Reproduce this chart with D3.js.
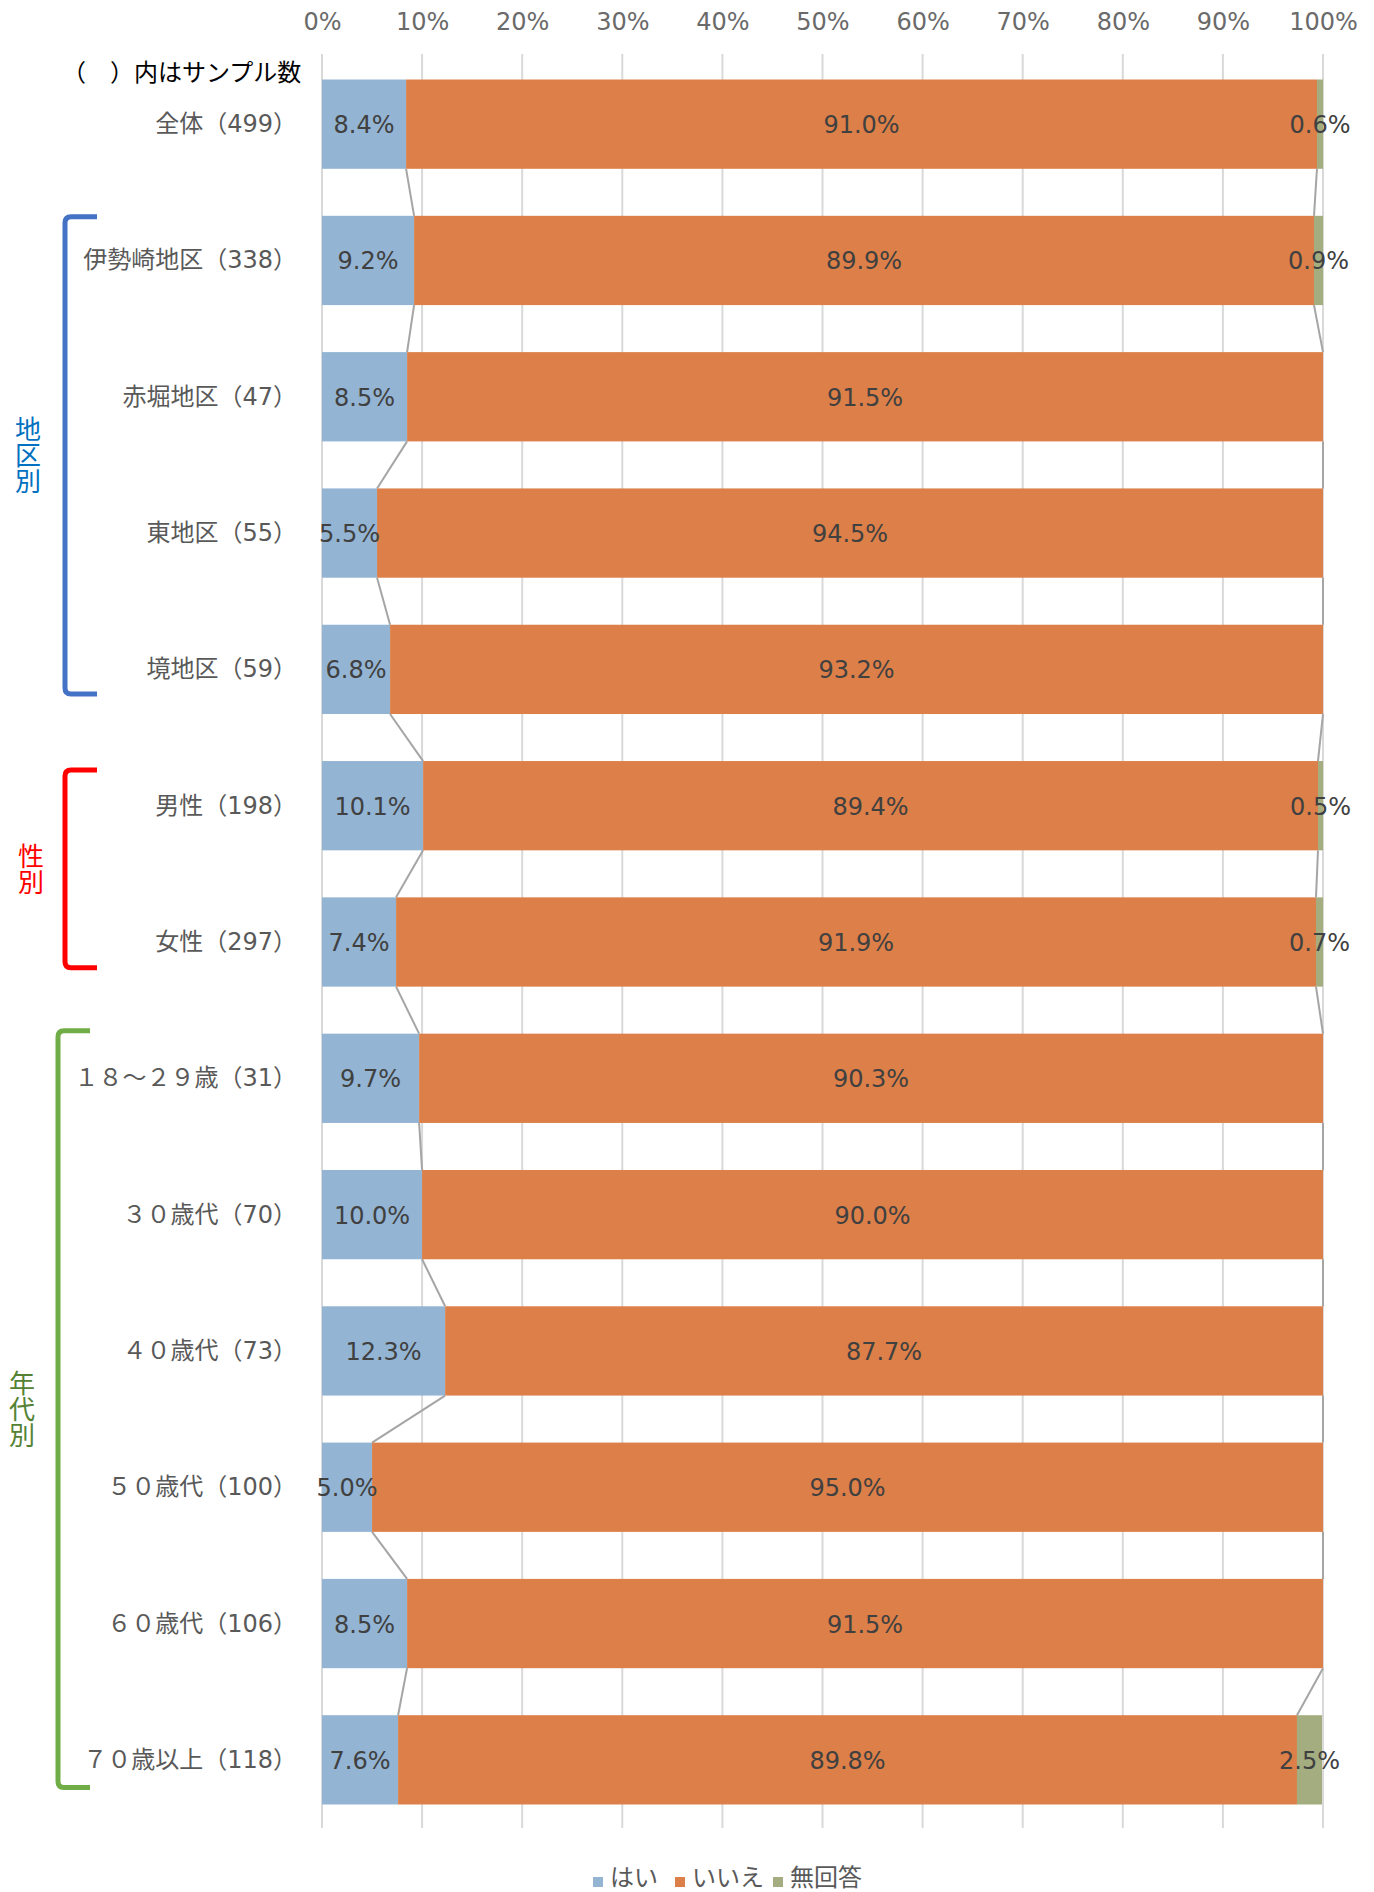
<!DOCTYPE html>
<html>
<head>
<meta charset="utf-8">
<script src="https://cdn.jsdelivr.net/npm/d3@7"></script>
<style>
html,body{margin:0;padding:0;background:#fff;}
svg{display:block;}
</style>
</head>
<body>
<svg id="chart" width="1374" height="1892"></svg>
<script>
const categories = ["全体（499）","伊勢崎地区（338）","赤堀地区（47）","東地区（55）","境地区（59）","男性（198）","女性（297）","１８～２９歳（31）","３０歳代（70）","４０歳代（73）","５０歳代（100）","６０歳代（106）","７０歳以上（118）"];
const yesValues = [8.4,9.2,8.5,5.5,6.8,10.1,7.4,9.7,10.0,12.3,5.0,8.5,7.6];
const noValues = [91.0,89.9,91.5,94.5,93.2,89.4,91.9,90.3,90.0,87.7,95.0,91.5,89.8];
const naValues = [0.6,0.9,0,0,0,0.5,0.7,0,0,0,0,0,2.5];
const seriesNames = ["はい","いいえ","無回答"];
const seriesColors = ["#93b4d3","#dc7f48","#a4ad80"];
const tickValues = [0,10,20,30,40,50,60,70,80,90,100];
const groups = [
  {name:"地区別", from:1, to:4, color:"#4472c4", textColor:"#0070c0"},
  {name:"性別", from:5, to:6, color:"#ff0000", textColor:"#ff0000"},
  {name:"年代別", from:7, to:12, color:"#70ad47", textColor:"#548235"}
];
const noteText = "（　）内はサンプル数";

const svg = d3.select("#chart");
const numFont = "'DejaVu Sans','Noto Sans CJK JP',sans-serif";
const cjkFont = "'Noto Sans CJK JP',sans-serif";

const x = d3.scaleLinear().domain([0,100]).range([322,1323]);
const y = d3.scaleBand().domain(categories).range([56,1828]).paddingInner(0.345).paddingOuter(0.1725);

// gridlines
svg.append("g").selectAll("line").data(tickValues).join("line")
  .attr("x1",d=>x(d)).attr("x2",d=>x(d))
  .attr("y1",54).attr("y2",1828)
  .attr("stroke","#d9d9d9").attr("stroke-width",2);

// top axis labels
const axis = d3.axisTop(x).tickValues(tickValues).tickFormat(d=>d+"%").tickSize(0);
const ag = svg.append("g").attr("transform","translate(0,33)").call(axis);
ag.select(".domain").remove();
ag.selectAll("text").attr("font-family",numFont).attr("font-size",24).attr("fill","#6a6a6a").attr("dy",0);

// stacked data
const rows = categories.map((c,i)=>({cat:c, vals:[yesValues[i],noValues[i],naValues[i]]}));
rows.forEach(r=>{ let s=0; r.segs = r.vals.map((v,k)=>{const seg={k,v,x0:s,x1:s+v}; s+=v; return seg;}); });

// series lines
const lg = svg.append("g");
for(let i=0;i<rows.length-1;i++){
  [0,1].forEach(k=>{
    const a = k===0 ? rows[i].segs[0].x1 : Math.min(100,rows[i].segs[1].x1);
    const b = k===0 ? rows[i+1].segs[0].x1 : Math.min(100,rows[i+1].segs[1].x1);
    lg.append("line")
      .attr("x1",x(a)).attr("y1",y(rows[i].cat)+y.bandwidth())
      .attr("x2",x(b)).attr("y2",y(rows[i+1].cat))
      .attr("stroke","#a5a5a5").attr("stroke-width",2);
  });
}

// bars
const bg = svg.append("g");
rows.forEach(r=>{
  bg.selectAll(null).data(r.segs.filter(s=>s.v>0)).join("rect")
    .attr("x",s=>x(s.x0)).attr("width",s=>x(s.x1)-x(s.x0))
    .attr("y",y(r.cat)).attr("height",y.bandwidth())
    .attr("fill",s=>seriesColors[s.k]);
});

// data labels
const tg = svg.append("g");
rows.forEach(r=>{
  tg.selectAll(null).data(r.segs.filter(s=>s.v>0)).join("text")
    .attr("x",s=>x((s.x0+s.x1)/2)).attr("y",y(r.cat)+y.bandwidth()/2+1)
    .attr("text-anchor","middle").attr("dominant-baseline","central")
    .attr("font-family",numFont).attr("font-size",24).attr("fill","#404040")
    .text(s=>s.v.toFixed(1)+"%");
});

// category labels
svg.append("g").selectAll("text").data(categories).join("text")
  .attr("x",297).attr("y",d=>y(d)+y.bandwidth()/2)
  .attr("text-anchor","end").attr("dominant-baseline","central")
  .attr("font-family",numFont).attr("font-size",24).attr("fill","#595959")
  .text(d=>d);

// note
svg.append("text").attr("x",62).attr("y",70).attr("dominant-baseline","central")
  .attr("font-family",cjkFont).attr("font-size",24).attr("fill","#000")
  .text(noteText);

// brackets
const topOff = [1,9,-3], botOff = [-20,-19,-17], xLeft = [65,65,58], xRight = [97,97,90], labelX = [28,31,22];
groups.forEach((g,gi)=>{
  const top = y(categories[g.from]) + topOff[gi];
  const bot = y(categories[g.to]) + y.bandwidth() + botOff[gi];
  const xl = xLeft[gi], xr = xRight[gi];
  svg.append("path")
    .attr("d",`M${xr},${top} L${xl+6},${top} Q${xl},${top} ${xl},${top+6} L${xl},${bot-6} Q${xl},${bot} ${xl+6},${bot} L${xr},${bot}`)
    .attr("fill","none").attr("stroke",g.color).attr("stroke-width",5);
  svg.append("text")
    .attr("x",labelX[gi]).attr("y",(top+bot)/2)
    .attr("text-anchor","middle")
    .style("writing-mode","vertical-rl")
    .attr("font-family",cjkFont).attr("font-size",26).attr("fill",g.textColor)
    .text(g.name);
});

// legend
const legX = [593,675,773];
const lgd = svg.append("g");
seriesNames.forEach((n,i)=>{
  lgd.append("rect").attr("x",legX[i]).attr("y",1877).attr("width",10).attr("height",10).attr("fill",seriesColors[i]);
  lgd.append("text").attr("x",legX[i]+17).attr("y",1875).attr("dominant-baseline","central")
    .attr("font-family",cjkFont).attr("font-size",24).attr("fill","#595959").text(n);
});
</script>
</body>
</html>
